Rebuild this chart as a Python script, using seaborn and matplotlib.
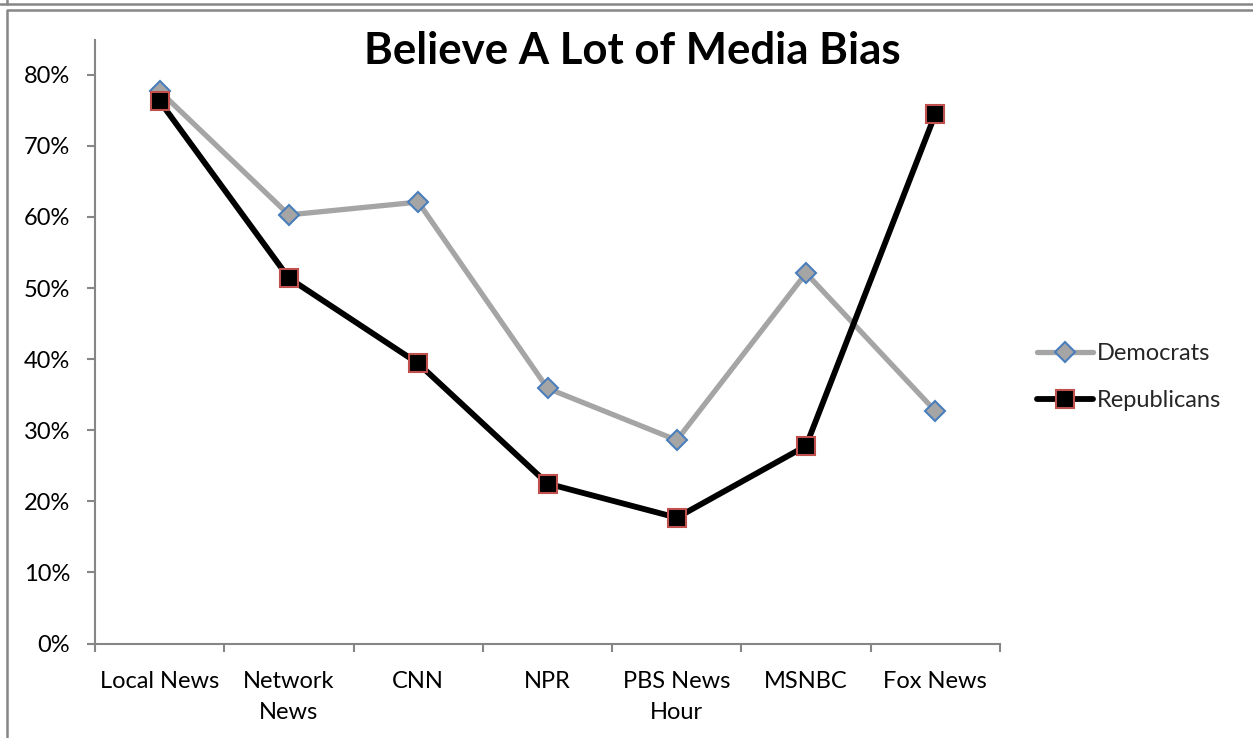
import matplotlib
matplotlib.use("Agg")
import matplotlib.pyplot as plt
import seaborn as sns
import pandas as pd
from matplotlib.lines import Line2D
from matplotlib.ticker import PercentFormatter, FixedLocator

categories = ["Local News", "Network\nNews", "CNN", "NPR", "PBS News\nHour", "MSNBC", "Fox News"]
democrats = [0.777, 0.603, 0.621, 0.359, 0.286, 0.521, 0.327]
republicans = [0.763, 0.514, 0.394, 0.225, 0.177, 0.278, 0.745]
yticks = [0.0, 0.1, 0.2, 0.3, 0.4, 0.5, 0.6, 0.7, 0.8]

sns.set_theme(style="white")
plt.rcParams['font.family'] = ['Lato', 'DejaVu Sans']

W, H = 1253, 738
fig = plt.figure(figsize=(W / 100, H / 100), dpi=100)
ax = fig.add_axes([95 / W, 1 - 643.5 / H, (1000 - 95) / W, (643.5 - 40) / H])

x = list(range(len(categories)))
df_d = pd.DataFrame({"x": x, "y": democrats})
df_r = pd.DataFrame({"x": x, "y": republicans})

GRAY = "#A5A5A5"
BLUE = "#4A7EBB"
RED = "#C0504D"
AXC = "#868686"
FS = 17

sns.lineplot(data=df_d, x="x", y="y", ax=ax, color=GRAY, linewidth=3.8,
             marker="D", markersize=10, markerfacecolor=GRAY,
             markeredgecolor=BLUE, markeredgewidth=1.5, zorder=3)
sns.lineplot(data=df_r, x="x", y="y", ax=ax, color="black", linewidth=4.2,
             marker="s", markersize=12.5, markerfacecolor="black",
             markeredgecolor=RED, markeredgewidth=1.5, zorder=4)

ax.set_xlim(-0.5, len(categories) - 0.5)
ax.set_ylim(0, 0.849)
ax.set_xlabel("")
ax.set_ylabel("")
ax.grid(False)

ax.yaxis.set_major_locator(FixedLocator(yticks))
ax.yaxis.set_major_formatter(PercentFormatter(1.0, decimals=0))
ax.set_xticks(x)
ax.set_xticklabels(categories)
ax.set_xticks([i - 0.5 for i in range(len(categories) + 1)], minor=True)

for s in ["top", "right"]:
    ax.spines[s].set_visible(False)
for s in ["left", "bottom"]:
    ax.spines[s].set_color(AXC)
    ax.spines[s].set_linewidth(1.5)

ax.tick_params(axis="y", which="major", direction="out", length=6, width=1.5,
               color=AXC, labelsize=FS, labelcolor="black", pad=12, left=True)
ax.tick_params(axis="x", which="major", length=0, labelsize=FS,
               labelcolor="black", pad=20)
ax.tick_params(axis="x", which="minor", direction="out", length=6, width=1.5,
               color=AXC, bottom=True)
for lbl in ax.get_xticklabels():
    lbl.set_linespacing(1.55)

fig.text(632 / W, 1 - 51 / H, "Believe A Lot of Media Bias", ha="center",
         va="center", fontsize=31.5, fontweight="bold", color="black")

handles = [
    Line2D([], [], color=GRAY, linewidth=3.8, marker="D", markersize=10,
           markerfacecolor=GRAY, markeredgecolor=BLUE, markeredgewidth=1.5),
    Line2D([], [], color="black", linewidth=4.2, marker="s", markersize=12.5,
           markerfacecolor="black", markeredgecolor=RED, markeredgewidth=1.5),
]
fig.legend(handles, ["Democrats", "Republicans"], loc="center left",
           bbox_to_anchor=(1028 / W, 1 - 377 / H), frameon=False,
           fontsize=FS, handlelength=2.35, handletextpad=0.15,
           labelspacing=1.12, borderaxespad=0)

# chart frame lines (Excel style)
fig.add_artist(Line2D([7 / W, 7 / W, 1.0], [0, 1 - 10 / H, 1 - 10 / H],
                      color=AXC, linewidth=1.8, transform=fig.transFigure))
fig.add_artist(Line2D([7 / W, 7 / W], [1 - 4 / H, 1.0],
                      color=AXC, linewidth=1.8, transform=fig.transFigure))
fig.add_artist(Line2D([0, 1.0], [1 - 4 / H, 1 - 4 / H],
                      color=AXC, linewidth=1.8, transform=fig.transFigure))

fig.savefig("out.png", dpi=100)
